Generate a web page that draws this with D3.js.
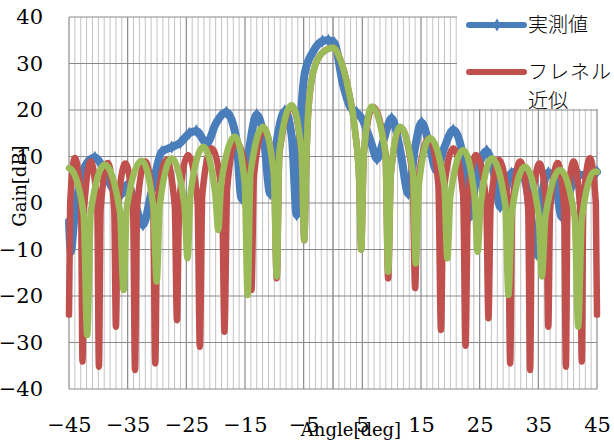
<!DOCTYPE html>
<html><head><meta charset="utf-8">
<script src="https://cdn.jsdelivr.net/npm/d3@7"></script>
<style>body{margin:0;background:#fff}svg{display:block}</style>
</head><body><svg id="c" width="614" height="441"></svg>
<script>
const xTicks = [-45,-35,-25,-15,-5,5,15,25,35,45];
const yTicks = [-40,-30,-20,-10,0,10,20,30,40];
const legendNames = ["実測値","フレネル","近似"];
const xTitle = "Angle[deg]";
const yTitle = "Gain[dB]";

const measured = [
[-45,-4],[-44.7,-10.5],[-44,-2],[-43,5],[-42,8.5],[-40.6,9.8],[-39,7],[-37.5,3],[-36,2],[-35,4],[-34,1],[-32.4,-4.7],[-31,2],[-29.2,11],[-27.5,12],[-26,13],[-24.5,15],[-23.3,15.5],[-21.5,12.8],[-20,17],[-18.2,19.5],[-16.5,14],[-15.6,1],[-14.5,10],[-13,19],[-11.8,14],[-10.7,2],[-9.5,14],[-8.2,19.8],[-7,14],[-6.2,-2.5],[-5.4,20],[-4.8,28],[-3.4,32.5],[-1.8,34.8],[-0.8,35],[0.2,34.5],[1.7,25.5],[2.9,20.7],[4,19.5],[5,18],[6.5,13],[7.5,9.5],[8.5,13],[10,18.2],[11.5,11],[12.85,2],[14,12],[15.1,17.3],[16.5,12],[17.6,7],[19,12],[20.5,15.7],[22,11],[23.3,-3],[24.5,6],[26.2,11.2],[27.5,6],[28.5,-0.8],[30.4,6.4],[32,7],[33.5,0],[34.7,-11],[35.8,3],[36.7,6.5],[37.8,5],[39,-3],[40.5,3],[42,6],[43.5,6],[45,6.7]
];

// フレネル近似 (Fresnel approximation)
const fresnel = [
[-45,-24],[-44.8,0],[-44.0,9.7],[-42.95,-0.3],[-42.7,-34.1],
[-42.42,-1.1],[-41.3,8.9],[-40.18,-1.1],[-39.9,-35.2],
[-39.61,-1.4],[-38.4,8.6],[-37.29,-1.4],[-37.0,-26.6],
[-36.68,-1.5],[-35.4,8.5],[-34.08,-1.5],[-33.75,-35.9],
[-33.4,-1.1],[-32.0,8.9],[-30.65,-1.1],[-30.3,-34.5],
[-29.93,-0.7],[-28.4,9.3],[-26.97,-0.7],[-26.6,-25.2],
[-26.21,0.3],[-24.7,10.3],[-23.09,0.3],[-22.7,-30.9],
[-22.28,1.8],[-20.7,11.8],[-18.92,1.8],[-18.5,-27.7],
[-18.04,3.2],[-16.6,13.2],[-14.36,3.2],[-13.9,-18.7],
[-13.47,5.9],[-11.8,15.9],[-10.03,5.9],[-9.6,-16.2],
[-9.13,10.8],[-7.0,20.8],[-5.37,10.8],[-4.9,-8],
[-4.55,9],[-4.2,20],[-3.3,28.5],[-1.9,32.2],[0,33.4],[1.2,31],[2.6,24.5],[3.75,15.7],[4.5,4],[4.8,-10],
[5.26,10.7],[6.8,20.7],[8.94,10.7],[9.4,-16.2],
[9.86,6.3],[11.5,16.3],[13.54,6.3],[14.0,-18.3],
[14.44,3.9],[16.4,13.9],[17.96,3.9],[18.4,-27.3],
[18.82,1.8],[20.5,11.8],[22.18,1.8],[22.6,-30.7],
[22.99,0.3],[24.4,10.3],[26.11,0.3],[26.5,-24.8],
[26.87,-0.7],[28.3,9.3],[29.83,-0.7],[30.2,-34.5],
[30.54,-1.1],[31.9,8.9],[33.26,-1.1],[33.6,-35.9],
[33.91,-1.5],[35.2,8.5],[36.39,-1.5],[36.7,-26.6],
[37.0,-1.4],[38.3,8.6],[39.4,-1.4],[39.7,-35.2],
[39.97,-1.1],[41.0,8.9],[42.13,-1.1],[42.4,-34.1],
[42.67,-0.3],[43.8,9.6],[44.8,0],[45,-24]
];

// third series (green, no visible legend entry)
const approx2 = [
[-45,7.5],[-44.6,7.2],[-42.5,-2.5],[-41.9,-28.4],
[-41.28,-1.8],[-38.9,8.2],[-36.32,-1.8],[-35.7,-18.7],
[-35.14,-0.9],[-32.6,9.1],[-30.62,-0.9],[-30.05,-16.9],
[-29.53,-0.4],[-27.5,9.6],[-25.33,-0.4],[-24.8,-11.9],
[-24.28,2.1],[-22.1,12.1],[-20.08,2.1],[-19.55,-5.8],
[-19.05,4.3],[-16.7,14.3],[-15.05,4.3],[-14.55,-19.8],
[-14.06,6.4],[-11.9,16.4],[-10.1,6.4],[-9.6,-15.8],
[-9.13,11.1],[-7.05,21.1],[-5.37,11.1],[-4.9,-8],
[-4.55,9],[-4.2,20],[-3.3,28.5],[-1.9,32.2],[0,33.4],[1.2,31],[2.6,24.5],[3.75,15.7],[4.5,4],[4.8,-10],
[5.26,10.7],[6.6,20.7],[8.94,10.7],[9.4,-14.8],
[9.87,6.4],[11.4,16.4],[13.63,6.4],[14.1,-13.0],
[14.64,4.0],[16.5,14.0],[18.96,4.0],[19.5,-11.9],
[20.0,1.4],[22.2,11.4],[24.14,1.4],[24.65,-10.5],
[25.18,-0.4],[27.05,9.6],[29.37,-0.4],[29.9,-19.8],
[30.47,-2.2],[32.7,7.8],[35.03,-2.2],[35.6,-15.8],
[36.22,-2.9],[38.7,7.1],[41.18,-2.9],[41.8,-26.6],
[42.42,-3.3],[44.6,6.8],[45,6.7]
];

const colors = {blue:"#4A7EBB", red:"#C0504D", green:"#9BBB59"};
const svg = d3.select("#c");
const W = 614, H = 441;
svg.append("rect").attr("width",W).attr("height",H).attr("fill","#fff");

const x = d3.scaleLinear().domain([-45,45]).range([69,597]);
const y = d3.scaleLinear().domain([-40,40]).range([389,17]);

const grid = svg.append("g");
grid.selectAll("line.minor").data(d3.range(-45,46,1).filter(v => (v+45)%10 !== 0))
  .enter().append("line").attr("class","minor")
  .attr("x1",d=>x(d)).attr("x2",d=>x(d)).attr("y1",y(40)).attr("y2",y(-40))
  .attr("stroke","#c3c3c3").attr("stroke-width",1);
grid.selectAll("line.majx").data(xTicks).enter().append("line")
  .attr("x1",d=>x(d)).attr("x2",d=>x(d)).attr("y1",y(40)).attr("y2",y(-40))
  .attr("stroke","#8a8a8a").attr("stroke-width",1.2);
grid.selectAll("line.majy").data(yTicks).enter().append("line")
  .attr("x1",x(-45)).attr("x2",x(45)).attr("y1",d=>y(d)).attr("y2",d=>y(d))
  .attr("stroke","#8a8a8a").attr("stroke-width",1.2);
grid.append("line").attr("x1",x(0)).attr("x2",x(0)).attr("y1",y(40)).attr("y2",y(-40))
  .attr("stroke","#8a8a8a").attr("stroke-width",1.2);

const line = d3.line().x(d=>x(d[0])).y(d=>y(d[1])).curve(d3.curveMonotoneX);

svg.append("path").datum(measured).attr("d",line).attr("fill","none")
  .attr("stroke",colors.blue).attr("stroke-width",8).attr("stroke-linejoin","round").attr("stroke-linecap","round");
svg.append("g").selectAll("path").data(measured).enter().append("path")
  .attr("d",d3.symbol().type(d3.symbolDiamond).size(50))
  .attr("transform",d=>`translate(${x(d[0])},${y(d[1])})`)
  .attr("fill",colors.blue);

svg.append("path").datum(fresnel).attr("d",line).attr("fill","none")
  .attr("stroke",colors.red).attr("stroke-width",6.5).attr("stroke-linejoin","round").attr("stroke-linecap","round");
svg.append("path").datum(approx2).attr("d",line).attr("fill","none")
  .attr("stroke",colors.green).attr("stroke-width",6.5).attr("stroke-linejoin","round").attr("stroke-linecap","round");

const font = "'DejaVu Serif', serif";
const xa = svg.append("g").attr("transform",`translate(0,${y(-40)})`)
  .call(d3.axisBottom(x).tickValues(xTicks).tickSize(0).tickPadding(28).tickFormat(d3.format("d")));
xa.select(".domain").remove();
xa.selectAll("text").attr("font-family",font).attr("font-size",21).attr("fill","#000");
const ya = svg.append("g").attr("transform",`translate(${x(-45)},0)`)
  .call(d3.axisLeft(y).tickValues(yTicks).tickSize(0).tickPadding(26).tickFormat(d3.format("d")));
ya.select(".domain").remove();
ya.selectAll("text").attr("font-family",font).attr("font-size",21).attr("fill","#000");

svg.append("text").attr("x",351).attr("y",436).attr("text-anchor","middle")
  .attr("font-family",font).attr("font-size",18).text(xTitle);
svg.append("text").attr("transform","translate(26,186) rotate(-90)").attr("text-anchor","middle")
  .attr("font-family",font).attr("font-size",18).text(yTitle);

const lg = svg.append("g");
lg.append("rect").attr("x",457).attr("y",0).attr("width",157).attr("height",109).attr("fill","#fff");
lg.append("line").attr("x1",469).attr("x2",524).attr("y1",25).attr("y2",25)
  .attr("stroke",colors.blue).attr("stroke-width",6).attr("stroke-linecap","round");
lg.append("path").attr("d",d3.symbol().type(d3.symbolDiamond).size(50)).attr("transform","translate(497,25)").attr("fill",colors.blue);
lg.append("line").attr("x1",469).attr("x2",524).attr("y1",72).attr("y2",72)
  .attr("stroke",colors.red).attr("stroke-width",6).attr("stroke-linecap","round");
const cjk = "'Noto Sans CJK JP', sans-serif";
lg.append("text").attr("x",528).attr("y",25).attr("dy","0.35em").attr("font-family",cjk).attr("font-size",20).attr("font-weight",300).text(legendNames[0]);
lg.append("text").attr("x",528).attr("y",72).attr("dy","0.35em").attr("font-family",cjk).attr("font-size",20).attr("font-weight",300).attr("letter-spacing",1).text(legendNames[1]);
lg.append("text").attr("x",528).attr("y",101).attr("dy","0.35em").attr("font-family",cjk).attr("font-size",20).attr("font-weight",300).text(legendNames[2]);
</script></body></html>
